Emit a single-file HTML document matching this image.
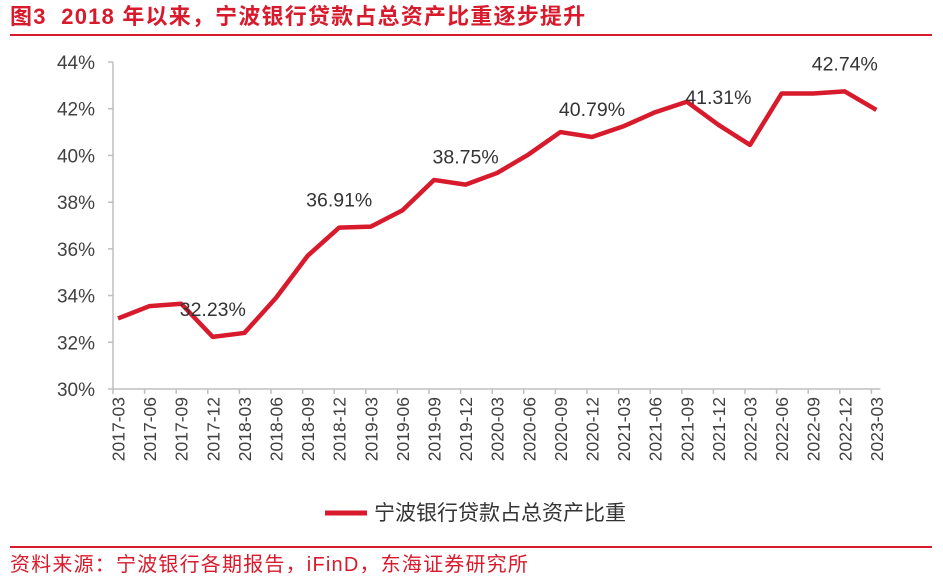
<!DOCTYPE html>
<html><head><meta charset="utf-8"><style>
body{margin:0;background:#fff;width:943px;height:580px;overflow:hidden;font-family:"Liberation Sans","Noto Sans CJK SC",sans-serif}
</style></head><body>
<svg width="943" height="580" xmlns="http://www.w3.org/2000/svg">
<text x="10" y="24" font-size="22" font-weight="bold" letter-spacing="1.2" fill="#d71a2c" font-family="Liberation Sans,Noto Sans CJK SC,sans-serif" xml:space="preserve">图3  2018 年以来，宁波银行贷款占总资产比重逐步提升</text>
<rect x="10" y="34" width="922" height="2" fill="#d71a2c"/>
<g id="axes"></g>
<g id="series"></g>
<line x1="325" y1="513" x2="367" y2="513" stroke="#d71a2c" stroke-width="5"/>
<text x="374" y="520" font-size="21" fill="#333" font-family="Liberation Sans,Noto Sans CJK SC,sans-serif">宁波银行贷款占总资产比重</text>
<rect x="10" y="546" width="922" height="2" fill="#d71a2c"/>
<text x="10" y="571" font-size="20" letter-spacing="1.2" fill="#d71a2c" font-family="Liberation Sans,Noto Sans CJK SC,sans-serif">资料来源：宁波银行各期报告，iFinD，东海证券研究所</text>
</svg>
<script>
const categories=["2017-03","2017-06","2017-09","2017-12","2018-03","2018-06","2018-09","2018-12","2019-03","2019-06","2019-09","2019-12","2020-03","2020-06","2020-09","2020-12","2021-03","2021-06","2021-09","2021-12","2022-03","2022-06","2022-09","2022-12","2023-03"];
const values=[33.02,33.55,33.65,32.23,32.4,33.9,35.7,36.91,36.95,37.65,38.95,38.75,39.25,40.05,41.0,40.79,41.25,41.85,42.3,41.31,40.45,42.65,42.65,42.74,41.95];
const yTicks=[30,32,34,36,38,40,42,44];
const labeled=[3,7,11,15,19,23];
const NS="http://www.w3.org/2000/svg";
const x0=118,dx=31.6,yB=389,yT=62,vMin=30,vMax=44;
const X=i=>x0+i*dx;
const Y=v=>yB-(v-vMin)/(vMax-vMin)*(yB-yT);
function mk(t,a,p){const e=document.createElementNS(NS,t);for(const k in a)e.setAttribute(k,a[k]);p.appendChild(e);return e;}
const ax=document.getElementById('axes'),se=document.getElementById('series');
const ya=mk('line',{x1:113,y1:yT,x2:113,y2:yB,stroke:'#bfbfbf','stroke-width':1.5},ax);


const xa=mk('line',{x1:113,y1:yB,x2:X(categories.length-1)+4,y2:yB,stroke:'#bfbfbf','stroke-width':1.5},ax);


yTicks.forEach(v=>{
 mk('line',{x1:108,y1:Y(v),x2:113,y2:Y(v),stroke:'#bfbfbf','stroke-width':1.5},ax);
 const t=mk('text',{x:95,y:Y(v)+7,'text-anchor':'end','font-size':19,fill:'#404040'},ax);
 t.textContent=v+'%';
 
 
});
categories.forEach((c,i)=>{
 mk('line',{x1:X(i)-5,y1:yB,x2:X(i)-5,y2:yB+5,stroke:'#bfbfbf','stroke-width':1.5},ax);
 const t=mk('text',{x:0,y:0,'text-anchor':'end','font-size':17.5,fill:'#404040',transform:`translate(${X(i)+6.5},${yB+8}) rotate(-90)`},ax);
 t.textContent=c;
 
 
});
const pl=mk('polyline',{points:values.map((v,i)=>X(i)+','+Y(v)).join(' '),fill:'none',stroke:'#d71a2c','stroke-width':4.5,'stroke-linejoin':'round'},se);


labeled.forEach(i=>{
 const t=mk('text',{x:X(i),y:Y(values[i])-21,'text-anchor':'middle','font-size':19.5,fill:'#333'},se);
 t.textContent=values[i].toFixed(2)+'%';
 
 
});
</script>
</body></html>
